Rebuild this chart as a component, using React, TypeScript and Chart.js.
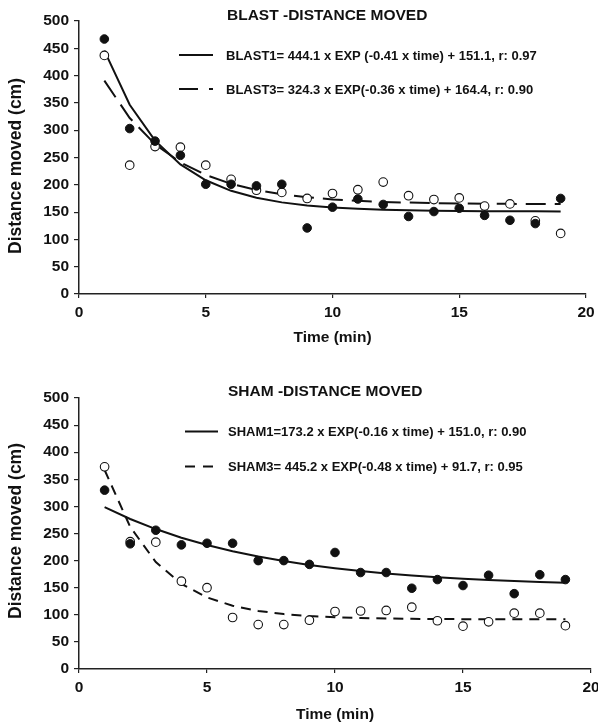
import React, { useEffect, useRef } from 'react';
import { Chart, registerables } from 'chart.js';
Chart.register(...registerables);

// ---------- data ----------
const TIME = [1, 2, 3, 4, 5, 6, 7, 8, 9, 10, 11, 12, 13, 14, 15, 16, 17, 18, 19];

const BLAST1_OBS = [467, 303, 280, 254, 201, 201, 198, 201, 121, 159, 174, 164, 142, 151, 157, 144, 135, 129, 175];
const BLAST3_OBS = [437, 236, 270, 269, 236, 210, 190, 186, 175, 184, 191, 205, 180, 173, 176, 161, 165, 134, 111];
const BLAST1_FIT = [445.8, 346.7, 280.9, 237.3, 208.3, 189.0, 176.3, 167.8, 162.2, 158.5, 156.0, 154.3, 153.3, 152.5, 152.0, 151.7, 151.5, 151.4, 151.3];
const BLAST3_FIT = [390.7, 322.3, 274.5, 241.2, 218.0, 201.8, 190.5, 182.6, 177.1, 173.3, 170.6, 168.7, 167.4, 166.5, 165.9, 165.4, 165.1, 164.9, 164.8];

const SHAM1_OBS = [330, 231, 256, 229, 232, 232, 200, 200, 193, 215, 178, 178, 149, 165, 154, 173, 139, 174, 165];
const SHAM3_OBS = [373, 235, 234, 162, 150, 95, 82, 82, 90, 106, 107, 108, 114, 89, 79, 87, 103, 103, 80];
const SHAM1_FIT = [298.6, 276.8, 258.2, 242.3, 228.8, 217.3, 207.5, 199.2, 192.0, 186.0, 180.8, 176.4, 172.6, 169.4, 166.7, 164.4, 162.4, 160.7, 159.3];
const SHAM3_FIT = [367.2, 262.2, 197.2, 157.0, 132.1, 116.7, 107.2, 101.3, 97.6, 95.4, 94.0, 93.1, 92.6, 92.2, 92.0, 91.9, 91.8, 91.8, 91.7];

const Y_TICKS = [0, 50, 100, 150, 200, 250, 300, 350, 400, 450, 500];
const X_TICKS = [0, 5, 10, 15, 20];

const BLAST_TITLE = 'BLAST -DISTANCE MOVED';
const BLAST_LEGEND = [
  'BLAST1= 444.1 x EXP (-0.41 x time) + 151.1, r: 0.97',
  'BLAST3= 324.3 x EXP(-0.36 x time) + 164.4, r: 0.90',
];
const SHAM_TITLE = 'SHAM -DISTANCE MOVED';
const SHAM_LEGEND = [
  'SHAM1=173.2 x EXP(-0.16 x time) + 151.0, r: 0.90',
  'SHAM3= 445.2 x EXP(-0.48 x time) + 91.7, r: 0.95',
];
const X_TITLE = 'Time (min)';
const Y_TITLE = 'Distance moved (cm)';

// ---------- styling ----------
const FONT = '"Liberation Sans", Arial, Helvetica, sans-serif';
const INK = '#111';

type Spec = {
  width: number;
  height: number;
  padTop: number;
  padRight: number;
  xAxisH: number;
  title: string;
  titleX: number;
  titleY: number;
  legend: string[];
  legendDash: number[][];
  legendLineX: [number, number];
  legendTextX: number;
  legendY: [number, number];
  yTitleY: number;
  xTitleY: number;
  obs1: number[];
  obs3: number[];
  fit1: number[];
  fit3: number[];
  fit3Dash: number[];
};

function drawLegendLine(ctx: CanvasRenderingContext2D, x0: number, x1: number, y: number, dash: number[]) {
  ctx.save();
  ctx.strokeStyle = INK;
  ctx.lineWidth = 2;
  ctx.setLineDash(dash);
  ctx.beginPath();
  ctx.moveTo(x0, y);
  ctx.lineTo(x1, y);
  ctx.stroke();
  ctx.restore();
}

function makeAnnot(spec: Spec) {
  return {
    id: 'annot',
    afterDraw(chart: any) {
      const ctx: CanvasRenderingContext2D = chart.ctx;
      const area = chart.chartArea;
      ctx.save();
      ctx.fillStyle = INK;
      ctx.textBaseline = 'middle';
      ctx.textAlign = 'left';
      ctx.font = `bold 15.5px ${FONT}`;
      ctx.fillText(spec.title, spec.titleX, spec.titleY);

      ctx.font = `bold 13px ${FONT}`;
      spec.legend.forEach((t, i) => {
        drawLegendLine(ctx, spec.legendLineX[0], spec.legendLineX[1], spec.legendY[i], spec.legendDash[i]);
        ctx.fillText(t, spec.legendTextX, spec.legendY[i] + 1);
      });

      ctx.textAlign = 'center';
      ctx.font = `bold 15.5px ${FONT}`;
      ctx.fillText(X_TITLE, (area.left + area.right) / 2, spec.xTitleY);

      ctx.font = `bold 17.5px ${FONT}`;
      ctx.translate(16, spec.yTitleY);
      ctx.rotate(-Math.PI / 2);
      ctx.fillText(Y_TITLE, 0, 0);
      ctx.restore();
    },
  };
}

function pts(ys: number[]) {
  return TIME.map((t, i) => ({ x: t, y: ys[i] }));
}

function Panel({ spec }: { spec: Spec }) {
  const ref = useRef<HTMLCanvasElement>(null);
  useEffect(() => {
    if (!ref.current) return;
    const chart = new Chart(ref.current, {
      type: 'scatter',
      data: {
        datasets: [
          {
            label: 'obs1',
            data: pts(spec.obs1),
            pointRadius: 4.3,
            pointBackgroundColor: '#111',
            pointBorderColor: '#111',
            pointBorderWidth: 1,
            showLine: false,
          },
          {
            label: 'obs3',
            data: pts(spec.obs3),
            pointRadius: 4.3,
            pointBackgroundColor: '#fff',
            pointBorderColor: '#111',
            pointBorderWidth: 1.1,
            showLine: false,
          },
          {
            label: 'fit1',
            data: pts(spec.fit1),
            showLine: true,
            pointRadius: 0,
            borderColor: INK,
            borderWidth: 2,
            tension: 0,
          },
          {
            label: 'fit3',
            data: pts(spec.fit3),
            showLine: true,
            pointRadius: 0,
            borderColor: INK,
            borderWidth: 2,
            borderDash: spec.fit3Dash,
            tension: 0,
          },
        ],
      },
      options: {
        responsive: false,
        animation: false,
        devicePixelRatio: 1,
        layout: { padding: { top: spec.padTop, right: spec.padRight, left: 0, bottom: 0 } },
        plugins: { legend: { display: false }, tooltip: { enabled: false }, title: { display: false } },
        scales: {
          x: {
            type: 'linear',
            min: 0,
            max: 20,
            afterBuildTicks: (s: any) => {
              s.ticks = X_TICKS.map((v) => ({ value: v }));
            },
            afterFit: (s: any) => {
              s.height = spec.xAxisH;
              s.paddingLeft = 0;
              s.paddingRight = 0;
            },
            grid: { drawOnChartArea: false, drawTicks: true, tickLength: 4, color: '#222', lineWidth: 1.2 },
            border: { display: true, color: '#222', width: 1.5 },
            ticks: {
              color: INK,
              padding: 5,
              maxRotation: 0,
              autoSkip: false,
              font: { family: FONT, size: 15.5, weight: 'bold' },
            },
          },
          y: {
            type: 'linear',
            min: 0,
            max: 500,
            afterBuildTicks: (s: any) => {
              s.ticks = Y_TICKS.map((v) => ({ value: v }));
            },
            afterFit: (s: any) => {
              s.width = 79;
              s.paddingTop = 0;
              s.paddingBottom = 0;
            },
            grid: { drawOnChartArea: false, drawTicks: true, tickLength: 5, color: '#222', lineWidth: 1.2 },
            border: { display: true, color: '#222', width: 1.5 },
            ticks: {
              color: INK,
              padding: 5,
              autoSkip: false,
              font: { family: FONT, size: 15.5, weight: 'bold' },
            },
          },
        },
      },
      plugins: [makeAnnot(spec)],
    } as any);
    return () => chart.destroy();
  }, [spec]);
  return (
    <canvas
      ref={ref}
      width={spec.width}
      height={spec.height}
      style={{ display: 'block', width: spec.width, height: spec.height }}
    />
  );
}

const TOP: Spec = {
  width: 598,
  height: 360,
  padTop: 21,
  padRight: 12,
  xAxisH: 66,
  title: BLAST_TITLE,
  titleX: 227,
  titleY: 16,
  legend: BLAST_LEGEND,
  legendDash: [[], [19, 11, 5, 11]],
  legendLineX: [179, 213],
  legendTextX: 226,
  legendY: [55, 89],
  yTitleY: 166,
  xTitleY: 338,
  obs1: BLAST1_OBS,
  obs3: BLAST3_OBS,
  fit1: BLAST1_FIT,
  fit3: BLAST3_FIT,
  fit3Dash: [20, 9],
};

const BOTTOM: Spec = {
  width: 598,
  height: 367,
  padTop: 38,
  padRight: 7,
  xAxisH: 58,
  title: SHAM_TITLE,
  titleX: 228,
  titleY: 32,
  legend: SHAM_LEGEND,
  legendDash: [[], [10, 8]],
  legendLineX: [185, 218],
  legendTextX: 228,
  legendY: [71.5, 106.5],
  yTitleY: 171,
  xTitleY: 355,
  obs1: SHAM1_OBS,
  obs3: SHAM3_OBS,
  fit1: SHAM1_FIT,
  fit3: SHAM3_FIT,
  fit3Dash: [10, 7],
};

export default function App() {
  return (
    <div style={{ position: 'fixed', left: 0, top: 0, width: 598, height: 727, background: '#fff', overflow: 'hidden' }}>
      <Panel spec={TOP} />
      <Panel spec={BOTTOM} />
    </div>
  );
}
